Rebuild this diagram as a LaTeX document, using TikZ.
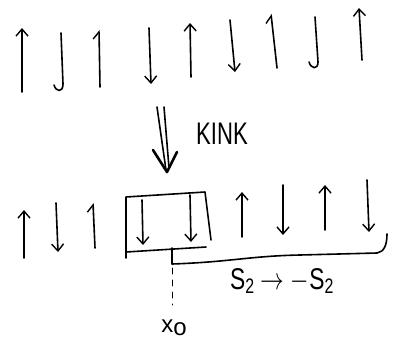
\documentclass[tikz,border=0pt]{standalone}
\usepackage{fontspec}
\setmainfont{Liberation Sans}
\usetikzlibrary{arrows.meta}
\begin{document}
\begin{tikzpicture}[x=1pt,y=-1pt,line cap=round,line join=round,
  pen/.style={line width=1.6pt},
  spin/.style={pen,-{Straight Barb[length=7pt,width=12pt,line width=1.4pt]}},
  halfspin/.style={pen,-{Straight Barb[length=7pt,width=12pt,left,line width=1.4pt]}},
  lbl/.style={inner sep=0pt}]
\useasboundingbox (0,0) rectangle (399,349);

% upper chain of spins
\draw[spin] (22,92) -- (22,28);
\draw[pen] (61,33) -- (63,84) .. controls (63,93) and (56,92) .. (54,85);
\draw[halfspin] (100,87) -- (99,30);
\draw[spin] (149,28) -- (151,84);
\draw[spin] (191,77) -- (190,23);
\draw[spin] (230,20) -- (235,72);
\draw[halfspin] (277,68) -- (271,14);
\draw[pen] (315,17) -- (318,62) .. controls (318,70) and (311,69) .. (309,62);
\draw[spin] (362,60) -- (359,8);

% kink arrow
\draw[pen] (157,107) -- (166,170);
\draw[pen] (164,107) -- (169,168);
\draw[line width=2.6pt] (153,150) -- (167,172) -- (177,152);
\node[lbl] (kink) at (222,134) {\scalebox{0.85}[1.2]{\fontsize{26}{26}\selectfont KINK}};

% lower chain of spins
\draw[spin] (24,258) -- (24,210);
\draw[spin] (56,203) -- (58,252);
\draw[halfspin] (95,248) -- (93,203);
\draw[spin] (142,200) -- (143,245);
\draw[spin] (190,195) -- (191,242);
\draw[spin] (242,237) -- (242,192);
\draw[spin] (283,185) -- (283,235);
\draw[spin] (325,230) -- (325,185);
\draw[spin] (367,180) -- (369,232);

% box round the kink
\draw[pen] (126,258) -- (126,197) -- (205,192) -- (211,240);
\draw[pen] (126,252) -- (206,247);

% brace over the flipped part
\draw[pen] (172,248) -- (172,264) .. controls (230,262) and (250,256) .. (300,255)
  -- (377,253) .. controls (384,252) and (387,245) .. (387,234);
\draw[line width=0.9pt,dash pattern=on 6pt off 6pt] (172,268) -- (172,305);

\node[lbl] (flip) at (282,281) {\scalebox{0.95}[1.25]{\fontsize{24}{24}\selectfont S\textsubscript{2} $\rightarrow$ $-$S\textsubscript{2}}};
\node[lbl] (x0) at (174,328) {\fontsize{24}{24}\selectfont x\raisebox{-3pt}{o}};
\end{tikzpicture}
\end{document}
